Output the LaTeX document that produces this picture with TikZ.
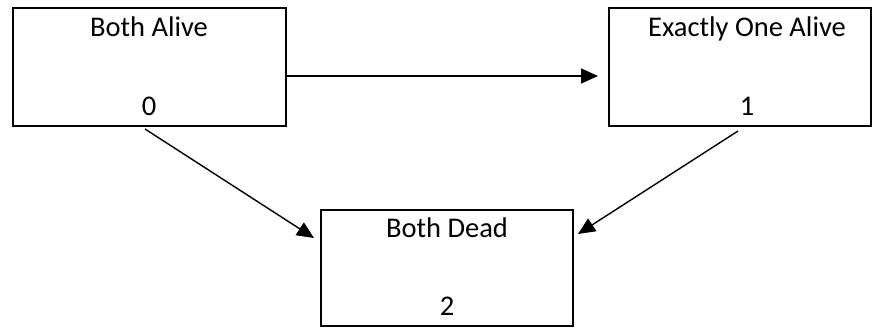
\documentclass[tikz,border=0pt]{standalone}
\usepackage{fontspec}
\setmainfont{Carlito}
\usetikzlibrary{arrows.meta}
\tikzset{
  statebox/.style={draw=black, line width=2pt, rectangle, inner sep=0pt},
  lbl/.style={anchor=base, inner sep=0pt, font=\fontsize{28.5}{30}\selectfont},
  conn/.style={draw=black, line width=1.4pt, -{Triangle[length=17pt,width=15pt]}}
}
\begin{document}
\begin{tikzpicture}[x=1pt,y=-1pt]
\useasboundingbox[fill=white] (0,0) rectangle (873,327);
% boxes
\node[statebox, minimum width=273pt, minimum height=118pt] (b0) at (149,67) {};
\node[statebox, minimum width=262pt, minimum height=118pt] (b1) at (740,67) {};
\node[statebox, minimum width=252pt, minimum height=116pt] (b2) at (447,268) {};
% labels
\node[lbl] (t0) at (149,36) {Both Alive};
\node[lbl] (n0) at (149,115) {0};
\node[lbl] (t1) at (747,36) {Exactly One Alive};
\node[lbl] (n1) at (747,115) {1};
\node[lbl] (t2) at (447,237) {Both Dead};
\node[lbl] (n2) at (447,315) {2};
% connector end points
\coordinate (h0) at (287,76);
\coordinate (h1) at (598,76);
\coordinate (d0) at (145,129);
\coordinate (d2) at (314,238);
\coordinate (e1) at (738,131);
\coordinate (e2) at (578,234);
\draw[conn] (h0) -- (h1);
\draw[conn] (d0) -- (d2);
\draw[conn] (e1) -- (e2);
\end{tikzpicture}
\end{document}
